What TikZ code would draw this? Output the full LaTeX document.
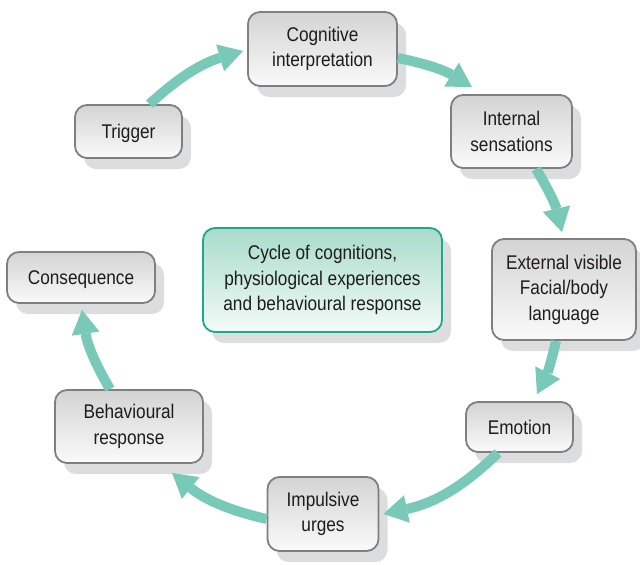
\documentclass[tikz,border=0pt]{standalone}
\usepackage{fontspec}
\setmainfont{Liberation Sans}[FakeStretch=0.87]
\usetikzlibrary{arrows.meta,shadows,calc}
\definecolor{flow}{HTML}{78C9B8}
\definecolor{frame}{HTML}{7F7F80}
\definecolor{boxshadow}{HTML}{DCDDDF}
\definecolor{hubframe}{HTML}{20A78A}
\definecolor{hubtop}{HTML}{A8DBCB}
\definecolor{hubbottom}{HTML}{F3FBF8}
\definecolor{ink}{HTML}{1E1C1D}
\begin{document}
\begin{tikzpicture}[x=1pt,y=1pt,
  font=\fontsize{19.8}{25.5}\selectfont,
  stepbox/.style={draw=frame, line width=1.8pt, rounded corners=12pt,
    top color=black!17, bottom color=black!2, text=ink, align=center,
    inner sep=0pt,
    drop shadow={shadow xshift=9pt, shadow yshift=-11pt, fill=boxshadow, opacity=1}},
  oneline/.style={text height=14pt, text depth=0pt},
  hubbox/.style={stepbox, draw=hubframe, top color=hubtop, bottom color=hubbottom},
  flowarrow/.style={draw=flow, line width=10pt,
    -{Triangle[width=28pt,length=24pt,line width=0pt]}}
]
\useasboundingbox (0,0) rectangle (640,-565);

% the steps of the cycle
\node[stepbox, oneline, minimum width=107pt, minimum height=53pt] (trig) at (128.5,-131.5) {Trigger};
\node[stepbox, minimum width=149pt, minimum height=74pt] (cog) at (322.5,-49) {Cognitive\\interpretation};
\node[stepbox, minimum width=121pt, minimum height=73pt] (int) at (511.5,-131.5) {Internal\\sensations};
\node[stepbox, minimum width=144pt, minimum height=101pt] (ext) at (564,-289.5) {External visible\\Facial/body\\language};
\node[stepbox, oneline, minimum width=107pt, minimum height=50pt] (emo) at (519.5,-427) {Emotion};
\node[stepbox, minimum width=111pt, minimum height=74pt] (imp) at (323,-514) {Impulsive\\urges};
\node[stepbox, minimum width=148pt, minimum height=73pt] (beh) at (129,-426.5) {Behavioural\\response};
\node[stepbox, oneline, minimum width=148pt, minimum height=51pt] (cons) at (81,-277.5) {Consequence};

% central caption
\node[hubbox, minimum width=239pt, minimum height=104pt] (hub) at (322.5,-280)
  {Cycle of cognitions,\\physiological experiences\\and behavioural response};

% curved arrows running clockwise
\draw[flowarrow] ($(trig.north)+(21,0)$) to[bend left=13] ($(cog.west)+(-4,-2)$);
\draw[flowarrow] ($(cog.east)+(0,-9)$) to[bend left=10] ($(int.north)+(-39.5,7)$);
\draw[flowarrow] ($(int.south)+(24.5,0)$) to[bend left=9] ($(ext.north)+(-2,6)$);
\draw[flowarrow] ($(ext.south)+(-8,0)$) to[bend left=7] ($(emo.north)+(17.5,7)$);
\draw[flowarrow] ($(emo.south)+(-21.5,0)$) to[bend left=16] ($(imp.east)+(4,0)$);
\draw[flowarrow] ($(imp.west)+(0,-5)$) to[bend left=13] ($(beh.south)+(43,-9)$);
\draw[flowarrow] ($(beh.north)+(-19,0)$) to[bend left=11] ($(cons.south)+(1,-6)$);
\end{tikzpicture}
\end{document}
